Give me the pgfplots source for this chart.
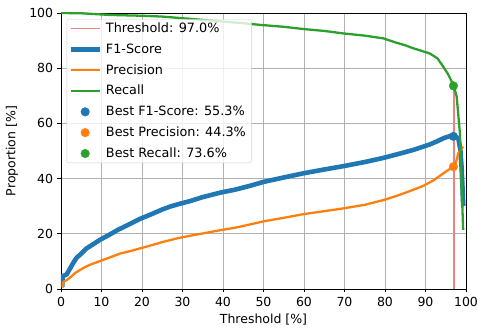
\documentclass[border=0pt]{standalone}
\usepackage{pgfplots}
\pgfplotsset{compat=1.18}
\usepackage{fontspec}
\setmainfont{DejaVu Sans}
\definecolor{tabblue}{HTML}{1F77B4}
\definecolor{taborange}{HTML}{FF7F0E}
\definecolor{tabgreen}{HTML}{2CA02C}
\definecolor{thr}{HTML}{F08080}
\pgfplotsset{
  lineleg/.style={legend image code/.code={\draw[##1] (3pt,0pt) -- (32pt,0pt);}},
  dotleg/.style={legend image code/.code={\draw[##1, fill opacity=1, draw opacity=1] plot coordinates {(17.5pt,0pt)};}},
}
\begin{document}
\fontsize{12.5}{15}\selectfont
\begin{tikzpicture}
\begin{axis}[
  scale only axis,
  width=405pt, height=276pt,
  xmin=0, xmax=100, ymin=0, ymax=100,
  xtick={0,10,...,100}, ytick={0,20,...,100},
  grid=major,
  major grid style={color=black!31, line width=0.8pt},
  axis line style={line width=0.9pt},
  tick style={black, line width=0.8pt},
  tick align=outside, major tick length=3.5pt,
  tick pos=left,
  /pgf/number format/assume math mode=true,
  ticklabel style={font=\fontsize{12.5}{15}\selectfont},
  xlabel={Threshold [\%]}, ylabel={Proportion [\%]},
  label style={font=\fontsize{12.5}{15}\selectfont},
  xlabel style={at={(axis description cs:0.5,0)}, anchor=center, yshift=-31pt},
  ylabel style={at={(axis description cs:-0.121,0.5)}, anchor=center, rotate=0},
  legend style={at={(0.014,0.978)}, anchor=north west, draw=black!18, rounded corners=2pt,
    fill=white, fill opacity=0.8, text opacity=1, draw opacity=1,
    font=\fontsize{12.8}{15}\selectfont, row sep=5.3pt, inner sep=1.5pt,
    nodes={inner xsep=4pt}, cells={anchor=west}},
]
\addplot[thr, line width=1.7pt, lineleg]
  coordinates {(97,0) (97,73.6)};
\addlegendentry{Threshold: 97.0\%}
\addplot[tabblue, line width=4.6pt, lineleg]
  coordinates {(0.3,0.8) (0.4,4.6) (1,5) (1.4,5.3) (2,6.8) (3,9.4) (3.9,11.4) (5,12.8) (6.3,14.7) (7.5,15.8) (9.6,17.8) (12,19.7) (14,21.4) (16.5,23.2) (19.5,25.4) (22,26.9) (25,28.8) (27,29.9) (29.4,30.9) (32,31.9) (35,33.3) (39.3,34.9) (43,36.0) (46.7,37.4) (50,38.8) (55,40.4) (59.8,41.9) (65,43.3) (69.7,44.5) (75,46.0) (79.6,47.5) (83,48.8) (87,50.4) (89.5,51.6) (91.1,52.4) (93,53.6) (94.4,54.6) (96,55.4) (96.9,55.6) (98.1,54.6) (98.6,50.5) (98.9,44.3) (99.1,38) (99.3,30.5) (99.5,30)};
\addlegendentry{F1-Score}
\addplot[taborange, line width=2.3pt, lineleg]
  coordinates {(0.4,0.5) (0.6,2.6) (1.4,3.2) (2.5,4.5) (3.5,5.8) (4.7,6.9) (6,8.0) (7.2,8.8) (9.6,10.1) (12,11.4) (14.5,12.8) (17,13.7) (19.5,14.7) (22,15.7) (25,17.0) (29.4,18.6) (33,19.6) (36,20.4) (39.3,21.3) (43,22.2) (46.7,23.4) (50,24.5) (55,25.8) (59.8,27.1) (65,28.2) (69.7,29.2) (75,30.5) (79.6,32.2) (83,33.8) (86,35.4) (89.5,37.4) (92,39.4) (94.4,41.9) (96,43.5) (96.9,44.5) (97.5,45.8) (98.1,49.2) (99.3,51.6)};
\addlegendentry{Precision}
\addplot[tabgreen, line width=2.3pt, lineleg]
  coordinates {(0,100) (5,99.9) (12,99.3) (20,99.0) (25,98.7) (30,98.1) (35,97.5) (40,96.9) (45,96.3) (49.1,95.7) (55,95.0) (59.8,94.2) (65,93.5) (69.7,92.6) (75,91.8) (79.6,90.8) (82.9,89.2) (85,88.3) (87,87.2) (89,86.3) (91.1,85.3) (93,83.5) (94.4,80.5) (95.5,78.0) (97,73.6) (97.7,69.7) (98.5,56.4) (98.9,38.3) (99.3,21.4)};
\addlegendentry{Recall}
\addplot[only marks, mark=*, mark size=4.3pt, tabblue, mark options={draw=tabblue, fill=tabblue}, dotleg]
  coordinates {(96.9,55.3)};
\addlegendentry{Best F1-Score: 55.3\%}
\addplot[only marks, mark=*, mark size=4.3pt, taborange, mark options={draw=taborange, fill=taborange}, dotleg]
  coordinates {(96.9,44.3)};
\addlegendentry{Best Precision: 44.3\%}
\addplot[only marks, mark=*, mark size=4.3pt, tabgreen, mark options={draw=tabgreen, fill=tabgreen}, dotleg]
  coordinates {(96.9,73.6)};
\addlegendentry{Best Recall: 73.6\%}
\end{axis}
\pgfresetboundingbox
\path[use as bounding box] (-61pt,-40pt) rectangle (416pt,289pt);
\end{tikzpicture}
\end{document}
